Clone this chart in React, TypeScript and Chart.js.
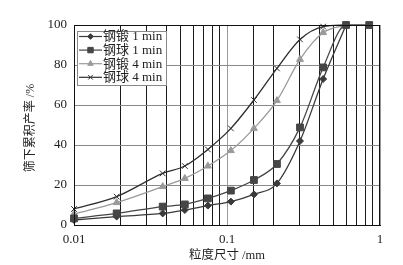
import React, { useEffect, useRef } from "react";
import { Chart, registerables } from "chart.js";
import { drawPoint } from "chart.js/helpers";

Chart.register(...registerables);

const sizes = [0.01, 0.019, 0.038, 0.053, 0.075, 0.106, 0.15, 0.212, 0.3, 0.425, 0.6, 0.85];
const seriesNames = ["钢锻 1 min", "钢球 1 min", "钢锻 4 min", "钢球 4 min"];
const forged1 = [2.5, 4.2, 5.8, 7.5, 9.7, 11.7, 15.3, 20.8, 42, 73, 100, null];
const ball1 = [3.3, 5.8, 9.2, 10.3, 13.3, 17.2, 22.5, 30.5, 48.8, 78.8, 100, 100];
const forged4 = [5.5, 11.2, 19.2, 23.3, 29.5, 37.2, 48.3, 62.2, 82.8, 96.2, 100, null];
const ball4 = [8, 14.2, 25.8, 29.5, 37.8, 48.3, 62.5, 78.3, 92.8, 99.2, 100, null];
const xLabels = [0.01, 0.1, 1];
const xTitle = "粒度尺寸 /mm";
const yTitle = "筛下累积产率 /%";

const FONT = "'Liberation Serif', 'Noto Sans CJK SC', serif";

const styles = [
  { color: "#3a3a3a", point: "rectRot", radius: 3.5, order: 1 },
  { color: "#464646", point: "rect", radius: 4.8, order: 0 },
  { color: "#9a9a9a", point: "triangle", radius: 4, order: 2 },
  { color: "#2e2e2e", point: "crossRot", radius: 4, order: 3 },
];

function toPoints(vals: (number | null)[]) {
  const pts: { x: number; y: number }[] = [];
  vals.forEach((v, i) => {
    if (v !== null) pts.push({ x: sizes[i], y: v });
  });
  return pts;
}

const isPow10 = (v: number) => Math.abs(Math.log10(v) - Math.round(Math.log10(v))) < 1e-6;

export default function App() {
  const ref = useRef<HTMLCanvasElement>(null);
  useEffect(() => {
    if (!ref.current) return;
    const allVals = [forged1, ball1, forged4, ball4];
    const decor = {
      id: "decor",
      afterDatasetsDraw(chart: any) {
        const { ctx, chartArea } = chart;
        const { left, right, top, bottom } = chartArea;
        ctx.save();
        ctx.strokeStyle = "#111";
        ctx.lineWidth = 1;
        ctx.strokeRect(left + 0.5, top + 0.5, right - left - 1, bottom - top);
        const bx = 77, by = 31, bw = 89, bh = 54;
        ctx.fillStyle = "#fff";
        ctx.fillRect(bx, by, bw, bh);
        ctx.strokeStyle = "#888";
        ctx.strokeRect(bx + 0.5, by + 0.5, bw, bh);
        seriesNames.forEach((name, i) => {
          const y = 36.5 + i * 13.6;
          const st = styles[i];
          ctx.strokeStyle = st.color;
          ctx.fillStyle = st.color;
          ctx.lineWidth = 1.2;
          ctx.beginPath();
          ctx.moveTo(79, y);
          ctx.lineTo(102, y);
          ctx.stroke();
          ctx.lineWidth = 1;
          drawPoint(
            ctx,
            { pointStyle: st.point as any, radius: st.radius * 0.8, borderWidth: 1, rotation: 0 },
            90.5,
            y
          );
          ctx.fillStyle = "#222";
          ctx.font = `13px ${FONT}`;
          ctx.textBaseline = "middle";
          ctx.textAlign = "left";
          ctx.fillText(name, 103, y + 0.5);
        });
        ctx.fillStyle = "#222";
        ctx.font = `12.5px ${FONT}`;
        ctx.textAlign = "center";
        ctx.textBaseline = "middle";
        ctx.fillText(xTitle, (left + right) / 2, 256);
        ctx.save();
        ctx.translate(31, (top + bottom) / 2 + 3);
        ctx.rotate(-Math.PI / 2);
        ctx.font = `12px ${FONT}`;
        ctx.fillText(yTitle, 0, 0);
        ctx.restore();
        ctx.restore();
      },
    };
    const chart = new Chart(ref.current, {
      type: "line",
      data: {
        datasets: allVals.map((vals, i) => ({
          label: seriesNames[i],
          data: toPoints(vals),
          borderColor: styles[i].color,
          backgroundColor: styles[i].color,
          pointBackgroundColor: styles[i].color,
          pointBorderColor: styles[i].color,
          pointStyle: styles[i].point as any,
          pointRadius: styles[i].radius,
          pointBorderWidth: 1,
          borderWidth: 1.3,
          cubicInterpolationMode: "monotone" as const,
          fill: false,
          clip: false as any,
          order: styles[i].order,
        })),
      },
      options: {
        animation: false,
        responsive: false,
        devicePixelRatio: 1,
        layout: { padding: { top: 25, right: 23, left: 0, bottom: 0 } },
        plugins: { legend: { display: false }, tooltip: { enabled: false } },
        scales: {
          x: {
            type: "logarithmic",
            min: 0.01,
            max: 1,
            afterFit: (s: any) => {
              s.height = 40;
            },
            border: { color: "#111", width: 1 },
            grid: {
              drawTicks: false,
              color: (c: any) => (c.tick && isPow10(c.tick.value) ? "#9a9a9a" : "#1a1a1a"),
              lineWidth: 1,
            },
            ticks: {
              padding: 7,
              color: "#222",
              font: { family: FONT, size: 13 },
              maxRotation: 0,
              autoSkip: false,
              callback: (v: any) => {
                const n = Number(v);
                return xLabels.some((l) => Math.abs(l - n) / l < 1e-6) ? String(n) : "";
              },
            },
          },
          y: {
            min: 0,
            max: 100,
            afterFit: (s: any) => {
              s.width = 74;
            },
            border: { color: "#111", width: 1 },
            grid: { drawTicks: false, color: "#8a8a8a", lineWidth: 1 },
            ticks: {
              stepSize: 20,
              padding: 7,
              color: "#222",
              font: { family: FONT, size: 13 },
            },
          },
        },
      },
      plugins: [decor],
    });
    return () => chart.destroy();
  }, []);
  return (
    <div style={{ position: "absolute", left: 0, top: 0, width: 403, height: 265, background: "#fff" }}>
      <canvas ref={ref} width={403} height={265} style={{ display: "block" }} />
    </div>
  );
}
